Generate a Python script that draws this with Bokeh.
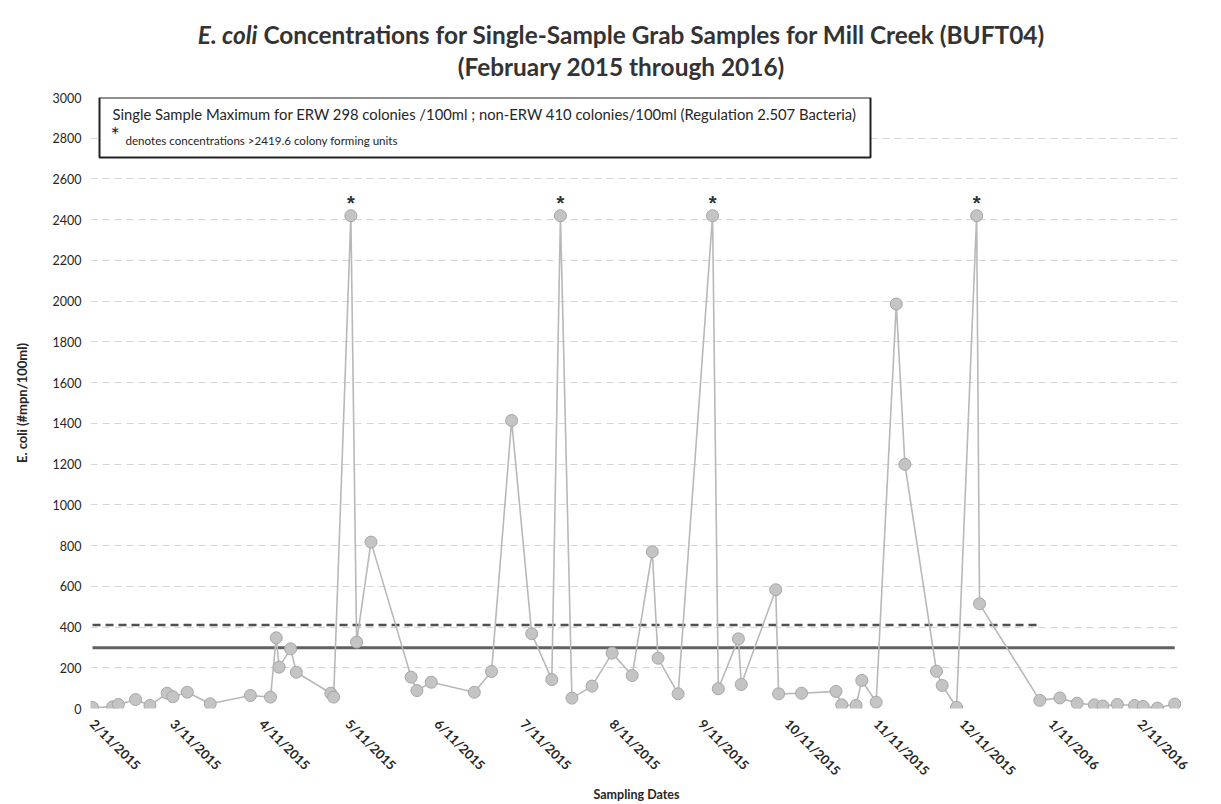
import math
from datetime import datetime
import pandas as pd
from bokeh.plotting import figure
from bokeh.layouts import column
from bokeh.models import (ColumnDataSource, Range1d, FixedTicker, DatetimeTickFormatter,
                          Label, BoxAnnotation, Div)
from bokeh.embed import file_html
from bokeh.resources import INLINE

# ---------------- data ----------------
sample_dates = [
    "2015-02-11", "2015-02-18", "2015-02-20", "2015-02-26", "2015-03-03", "2015-03-09",
    "2015-03-11", "2015-03-16", "2015-03-24", "2015-04-07", "2015-04-14", "2015-04-16",
    "2015-04-17", "2015-04-21", "2015-04-23", "2015-05-05", "2015-05-06", "2015-05-12",
    "2015-05-14", "2015-05-19", "2015-06-02", "2015-06-04", "2015-06-09", "2015-06-24",
    "2015-06-30", "2015-07-07", "2015-07-14", "2015-07-21", "2015-07-24", "2015-07-28",
    "2015-08-04", "2015-08-11", "2015-08-18", "2015-08-25", "2015-08-27", "2015-09-03",
    "2015-09-15", "2015-09-17", "2015-09-24", "2015-09-25", "2015-10-07", "2015-10-08",
    "2015-10-16", "2015-10-28", "2015-10-30", "2015-11-04", "2015-11-06", "2015-11-11",
    "2015-11-18", "2015-11-21", "2015-12-02", "2015-12-04", "2015-12-09", "2015-12-16",
    "2015-12-17", "2016-01-07", "2016-01-14", "2016-01-20", "2016-01-26", "2016-01-29",
    "2016-02-03", "2016-02-09", "2016-02-12", "2016-02-17", "2016-02-23",
]
ecoli_mpn = [
    5, 8, 20, 44, 15, 75,
    58, 80, 23, 64, 56, 347,
    203, 293, 178, 75, 56, 2419.6,
    326, 817, 154, 88, 129, 80,
    182, 1414, 367, 142, 2419.6, 51,
    110, 272, 162, 770, 247, 72,
    2419.6, 97, 342, 118, 583, 72,
    75, 84, 18, 15, 138, 31,
    1986, 1199, 183, 113, 6, 2419.6,
    514, 40, 52, 26, 18, 12,
    20, 15, 10, 2, 22,
]
erw_limit = 298
non_erw_limit = 410
non_erw_last_date = "2016-01-07"
censor_value = 2419.6

x_tick_dates = ["2015-02-11", "2015-03-11", "2015-04-11", "2015-05-11", "2015-06-11",
                "2015-07-11", "2015-08-11", "2015-09-11", "2015-10-11", "2015-11-11",
                "2015-12-11", "2016-01-11", "2016-02-11"]
y_ticks = list(range(0, 3001, 200))

title_italic = "E. coli"
title_rest = "Concentrations for Single-Sample Grab Samples for Mill Creek (BUFT04)"
title_line2 = "(February 2015 through 2016)"

# ---------------- build ----------------
dates = pd.to_datetime(sample_dates)
src = ColumnDataSource(dict(x=dates, y=ecoli_mpn))

cens_idx = [i for i, v in enumerate(ecoli_mpn) if v >= censor_value]
cens_src = ColumnDataSource(dict(x=dates[cens_idx], y=[ecoli_mpn[i] for i in cens_idx],
                                 t=["*"] * len(cens_idx)))

erw_x = dates
non_erw_x = dates[dates <= pd.Timestamp(non_erw_last_date)]

FONT = "Lato"
TXT = "#262626"

TITLE_H = 87
title = Div(
    text=(f'<div style="width:1221px;text-align:center;font-family:Lato;font-weight:bold;'
          f'font-size:24.4px;color:#333333;line-height:32px;padding-top:19px;'
          f'padding-left:21px;box-sizing:border-box;">'
          f'<i>{title_italic}</i> {title_rest}<br>{title_line2}</div>'),
    width=1221, height=TITLE_H, margin=0)

p = figure(frame_width=1092, frame_height=611, output_backend="svg", toolbar_location=None,
           x_axis_type="datetime",
           x_range=Range1d(datetime(2015, 2, 10, 7), datetime(2016, 2, 25, 17)),
           y_range=Range1d(0, 3000),
           min_border_left=90, min_border_right=39, min_border_top=10, min_border_bottom=96,
           margin=0)
p.outline_line_color = None
p.background_fill_color = "white"
p.border_fill_color = "white"

# grid
p.xgrid.grid_line_color = None
p.ygrid.grid_line_color = "#d6d6d6"
p.ygrid.grid_line_dash = "7 5"
p.ygrid.grid_line_width = 1

# axes
p.xaxis.ticker = FixedTicker(ticks=[pd.Timestamp(d).value / 1e6 for d in x_tick_dates])
fmt = "%-m/%d/%Y"
p.xaxis.formatter = DatetimeTickFormatter(microseconds=fmt, milliseconds=fmt, seconds=fmt,
                                          minsec=fmt, minutes=fmt, hourmin=fmt, hours=fmt,
                                          days=fmt, months=fmt, years=fmt)
p.xaxis.major_label_orientation = -math.pi / 4
p.yaxis.ticker = FixedTicker(ticks=y_ticks)
for ax in (p.xaxis[0], p.yaxis[0]):
    ax.axis_line_color = None
    ax.major_tick_line_color = None
    ax.minor_tick_line_color = None
    ax.major_tick_out = 0
    ax.major_tick_in = 0
    ax.minor_tick_out = 0
    ax.minor_tick_in = 0
    ax.major_label_text_font = FONT
    ax.major_label_text_color = TXT
p.xaxis.major_label_text_font_size = "13px"
p.xaxis.major_label_text_font_style = "bold"
p.xaxis.major_label_standoff = 13
p.xaxis.axis_label = "Sampling Dates"
p.xaxis.axis_label_text_font = FONT
p.xaxis.axis_label_text_font_size = "12.5px"
p.xaxis.axis_label_text_font_style = "bold"
p.xaxis.axis_label_text_color = TXT
p.xaxis.axis_label_standoff = 0
p.yaxis.major_label_text_font_size = "12.5px"
p.yaxis.major_label_standoff = 9
p.yaxis.axis_label = "E. coli (#mpn/100ml)"
p.yaxis.axis_label_text_font = FONT
p.yaxis.axis_label_text_font_size = "13px"
p.yaxis.axis_label_text_font_style = "bold"
p.yaxis.axis_label_text_color = TXT
p.yaxis.axis_label_standoff = 20

# limit lines
p.line(x=erw_x, y=[erw_limit] * len(erw_x), line_color="#626262", line_width=3)
p.line(x=non_erw_x, y=[non_erw_limit] * len(non_erw_x), line_color="#505050",
       line_width=2.5, line_dash="8 5")

# series
p.line("x", "y", source=src, line_color="#b8b8b8", line_width=1.6)
p.scatter("x", "y", source=src, size=12, marker="circle", fill_color="#c4c4c4",
          line_color="#a6a6a6", line_width=1)
p.text("x", "y", text="t", source=cens_src, text_align="center", text_baseline="middle",
       y_offset=-13, text_font_size="20px", text_color="#333333", text_font_style="bold")

# note box
p.add_layout(BoxAnnotation(left=9, right=780, left_units="screen", right_units="screen",
                           top=3000, bottom=2705, fill_color="white", fill_alpha=1,
                           line_color="#222222", line_alpha=1, line_width=2,
                           level="overlay"))
note1 = (f"Single Sample Maximum for ERW {erw_limit} colonies /100ml ; non-ERW "
         f"{non_erw_limit} colonies/100ml (Regulation 2.507 Bacteria)")
p.add_layout(Label(x=22, y=595, x_units="screen", y_units="screen", text=note1,
                   text_font=FONT, text_font_size="14.8px", text_color=TXT,
                   text_baseline="middle", level="overlay"))
p.add_layout(Label(x=20, y=574, x_units="screen", y_units="screen", text="*",
                   text_font=FONT, text_font_size="22px", text_color=TXT,
                   text_baseline="middle", level="overlay"))
p.add_layout(Label(x=35, y=568, x_units="screen", y_units="screen",
                   text=f"denotes concentrations >{censor_value} colony forming units",
                   text_font=FONT, text_font_size="11.6px", text_color=TXT,
                   text_baseline="middle", level="overlay"))

page = column(title, p, spacing=0)
open("out.html", "w").write(file_html(page, INLINE))
